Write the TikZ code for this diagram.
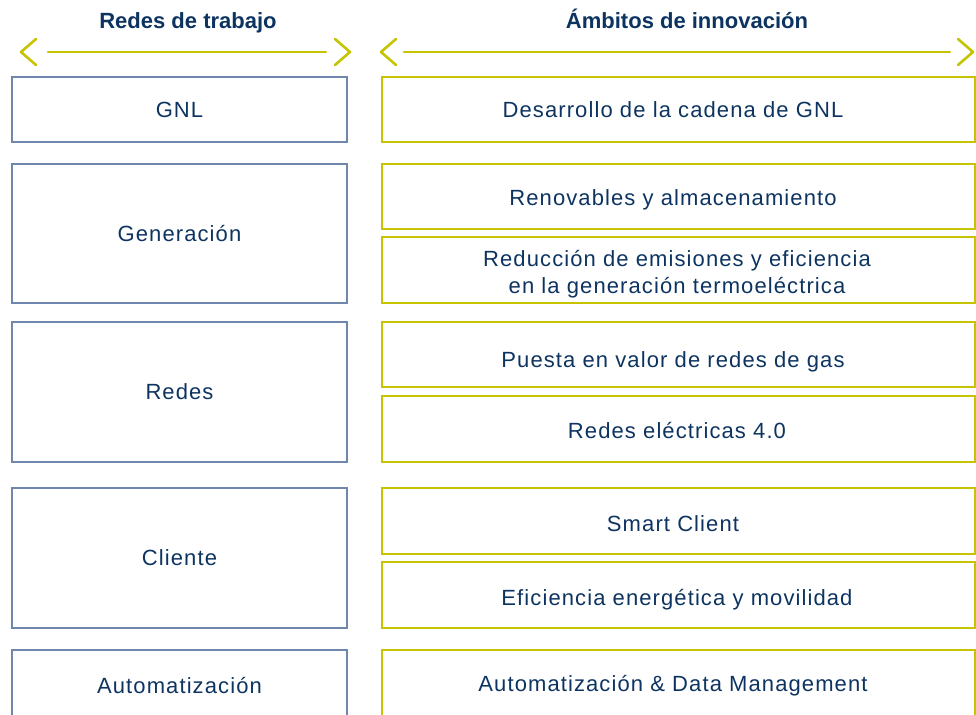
\documentclass[tikz,border=0pt]{standalone}
\usepackage{fontspec}
\setmainfont{Liberation Sans}[LetterSpace=5]
\newfontfamily\headfont{Liberation Sans}[LetterSpace=0]
\definecolor{navy}{HTML}{0D3461}
\definecolor{lborder}{HTML}{6F87AC}
\definecolor{rborder}{HTML}{C6C400}
\begin{document}
\begin{tikzpicture}[x=1pt,y=-1pt,
  txt/.style={text=navy,font=\fontsize{22}{27}\selectfont,align=center,inner sep=0pt},
  lbox/.style={txt,draw=lborder,line width=1.4pt,minimum width=335pt},
  rbox/.style={txt,draw=rborder,line width=1.4pt,minimum width=593pt},
  head/.style={text=navy,font=\headfont\fontsize{22}{26}\selectfont\bfseries,inner sep=0pt,anchor=base},
  chev/.style={draw=rborder,line width=2.6pt,line cap=round,line join=round}]
\useasboundingbox (0,0) rectangle (976,714);
% headers
\node[head] (h1) at (188,28.5) {Redes de trabajo};
\node[head] (h2) at (687,28.5) {Ámbitos de innovación};
% header arrows
\draw[chev] (36,39) -- (21,52) -- (36,65);
\draw[chev] (48,52) -- (326,52);
\draw[chev] (335,39) -- (350,52) -- (335,65);
\draw[chev] (396,39) -- (381,52) -- (396,65);
\draw[chev] (404,52) -- (950,52);
\draw[chev] (958,39) -- (973,52) -- (958,65);
% left column
\node[lbox,minimum height=65pt] (gnl) at (179.5,109.5) {GNL};
\node[lbox,minimum height=139pt] (gen) at (179.5,233.5) {Generación};
\node[lbox,minimum height=140pt] (red) at (179.5,392) {Redes};
\node[lbox,minimum height=140pt] (cli) at (179.5,558) {Cliente};
\node[lbox,minimum height=70pt] (aut) at (179.5,685) {Automatización};
% right column
\node[rbox,minimum height=65pt] (r1) at (678.5,109.5) {};
\node[txt] (t1) at (673,110) {Desarrollo de la cadena de GNL};
\node[rbox,minimum height=65pt] (r2) at (678.5,196.5) {};
\node[txt] (t2) at (673,200) {Renovables y almacenamiento};
\node[rbox,minimum height=66pt] (r3) at (678.5,270) {};
\node[txt] (t3) at (677,274) {Reducción de emisiones y eficiencia\\en la generación termoeléctrica};
\node[rbox,minimum height=65pt] (r4) at (678.5,354.5) {};
\node[txt] (t4) at (673,362) {Puesta en valor de redes de gas};
\node[rbox,minimum height=66pt] (r5) at (678.5,429) {};
\node[txt] (t5) at (677,431) {Redes eléctricas 4.0};
\node[rbox,minimum height=66pt] (r6) at (678.5,521) {};
\node[txt] (t6) at (673,524) {Smart Client};
\node[rbox,minimum height=66pt] (r7) at (678.5,595) {};
\node[txt] (t7) at (677,600) {Eficiencia energética y movilidad};
\node[rbox,minimum height=70pt] (r8) at (678.5,685) {};
\node[txt] (t8) at (673,686) {Automatización \& Data Management};
\end{tikzpicture}
\end{document}
